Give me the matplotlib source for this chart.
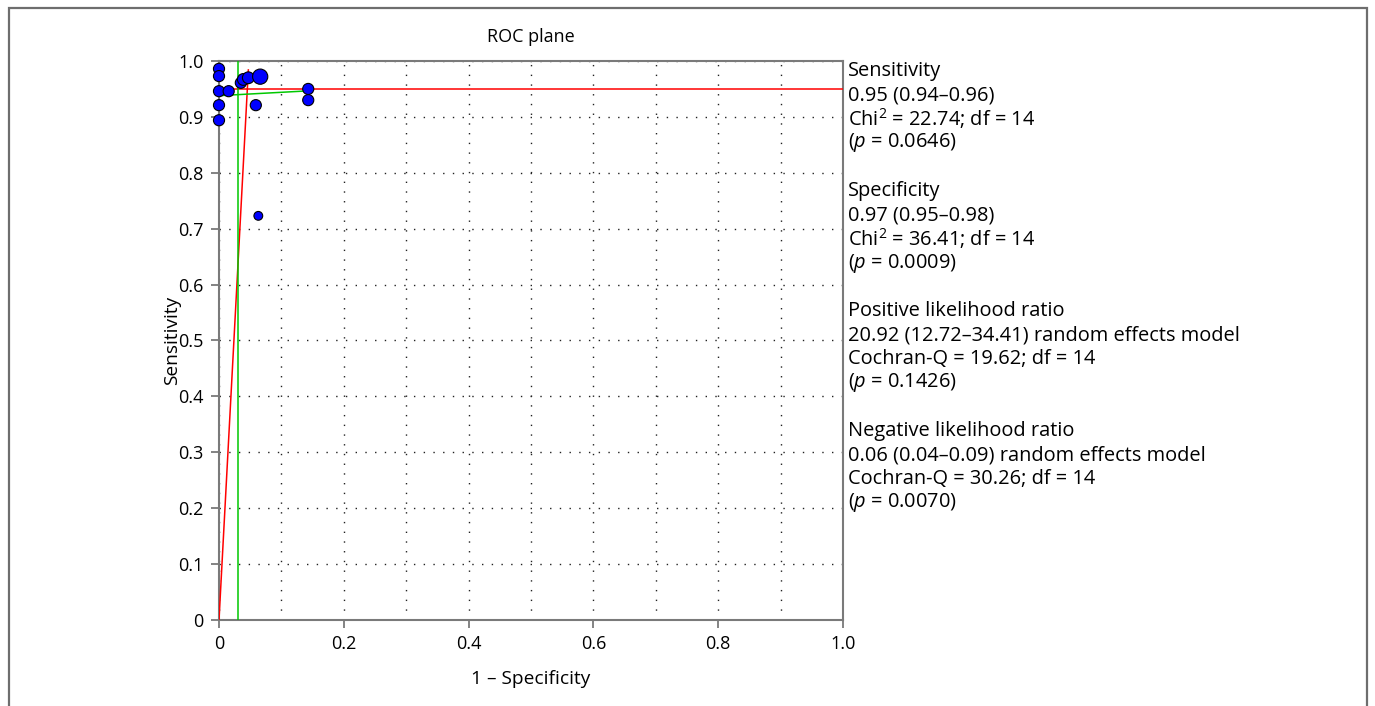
"""
ROC plane for the pooled diagnostic accuracy data
"""
import numpy as np
import matplotlib
matplotlib.use('Agg')
import matplotlib.pyplot as plt
from matplotlib.patches import Rectangle

plt.rcParams['font.family'] = ['Open Sans', 'DejaVu Sans']
plt.rcParams['mathtext.fontset'] = 'custom'
plt.rcParams['mathtext.rm'] = 'Open Sans'
plt.rcParams['mathtext.it'] = 'Open Sans:italic'

# Studies: 1 - specificity, sensitivity, marker size
fpr = [0.0, 0.0, 0.0, 0.0155, 0.0, 0.0, 0.035, 0.039, 0.047, 0.066, 0.059, 0.143, 0.143, 0.063]
sens = [0.986, 0.973, 0.946, 0.946, 0.921, 0.894, 0.961, 0.967, 0.970, 0.972, 0.921, 0.950, 0.930, 0.723]
sizes = [64, 64, 64, 64, 64, 64, 64, 72, 72, 120, 64, 64, 64, 40]

# pooled estimates
pooled_sens = 0.95
pooled_spec = 0.97
plr = 20.92
nlr = 0.06

summary = [
    ["Sensitivity", "0.95 (0.94\u20130.96)", "Chi$^{2}$ = 22.74; df = 14", "($\\mathit{p}$ = 0.0646)"],
    ["Specificity", "0.97 (0.95\u20130.98)", "Chi$^{2}$ = 36.41; df = 14", "($\\mathit{p}$ = 0.0009)"],
    ["Positive likelihood ratio", "20.92 (12.72\u201334.41) random effects model",
     "Cochran-Q = 19.62; df = 14", "($\\mathit{p}$ = 0.1426)"],
    ["Negative likelihood ratio", "0.06 (0.04\u20130.09) random effects model",
     "Cochran-Q = 30.26; df = 14", "($\\mathit{p}$ = 0.0070)"],
]

W, H = 1375, 706
fig = plt.figure(figsize=(W / 100, H / 100), dpi=100)
ax = fig.add_axes([219 / W, 1 - 620 / H, (843 - 219) / W, (620 - 61) / H])

# outer frame
fig.patches.append(Rectangle((9 / W, -0.05), (1367 - 9) / W, 1.05 - 8 / H,
                             transform=fig.transFigure, fill=False,
                             edgecolor='#6e6e6e', lw=1.6, clip_on=False))

ax.set_xlim(0, 1)
ax.set_ylim(0, 1)
ax.set_xticks(np.arange(0, 1.01, 0.2))
ax.set_xticklabels(['0', '0.2', '0.4', '0.6', '0.8', '1.0'])
ax.set_xticks(np.arange(0.1, 1.0, 0.2), minor=True)
ax.set_yticks(np.arange(0, 1.01, 0.1))
ax.set_yticklabels(['0'] + ['%.1f' % v for v in np.arange(0.1, 1.01, 0.1)])
ax.tick_params(axis='both', which='major', length=6, width=1.2, color='#6e6e6e',
               labelsize=13, pad=5)
ax.tick_params(axis='x', which='minor', length=0)
ax.grid(True, which='both', linestyle=(0, (1, 6)), color='#222222', lw=1.0)
for s in ax.spines.values():
    s.set_color('#7a7a7a')
    s.set_linewidth(1.5)

# pooled lines
ax.plot([0, 1], [pooled_sens, pooled_sens], color='#ff0000', lw=1.1, zorder=3)
ax.plot([0, 0.984 / plr], [0, 0.984], color='#ff0000', lw=1.1, zorder=3)
ax.plot([1 - pooled_spec, 1 - pooled_spec], [0, 1], color='#00c800', lw=1.1, zorder=3)
xs = np.array([0, 0.143])
ax.plot(xs, 1 - nlr * (1 - xs) - 0.002, color='#00c800', lw=1.1, zorder=3)

ax.scatter(fpr, sens, s=sizes, c='#0000ff', edgecolors='black', linewidths=0.8,
           zorder=5, clip_on=False)

ax.set_title('ROC plane', fontsize=13, pad=14)
ax.set_xlabel('1 \u2013 Specificity', fontsize=13.8, labelpad=12)
ax.set_ylabel('Sensitivity', fontsize=13.8, va='center')
ax.yaxis.set_label_coords(-0.076, 0.5)

# summary text on the right
y0 = 71
for block in summary:
    for line in block:
        fig.text(848 / W, 1 - y0 / H, line, fontsize=14.4, va='center', ha='left')
        y0 += 24
    y0 += 24

fig.savefig('out.png', dpi=100)
